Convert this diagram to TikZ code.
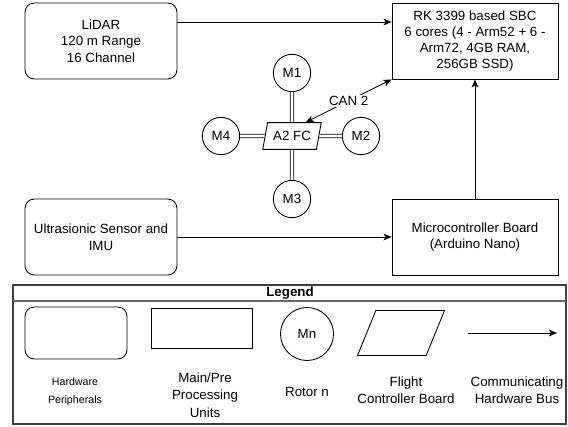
\documentclass[tikz,border=0pt]{standalone}
\usepackage{fontspec}
\setmainfont{Liberation Sans}
\usetikzlibrary{shapes.geometric, positioning, calc, arrows.meta}
\tikzstyle{periph} = [rectangle, rounded corners=7pt, draw=black, line width=0.65pt, align=center, minimum width=114pt, minimum height=57pt, font=\fontsize{10}{12.5}\selectfont]
\tikzstyle{unit} = [rectangle, draw=black, line width=0.65pt, align=center, minimum width=124.5pt, minimum height=57pt, font=\fontsize{10}{12}\selectfont]
\tikzstyle{rotor} = [circle, draw=black, line width=0.65pt, minimum size=28pt, inner sep=0pt, font=\fontsize{10}{12}\selectfont]
\tikzstyle{fcboard} = [trapezium, trapezium left angle=72, trapezium right angle=108, trapezium stretches=true, draw=black, line width=0.65pt, minimum width=44pt, minimum height=20pt, inner sep=1pt, font=\fontsize{10}{12}\selectfont]
\tikzstyle{bus} = [-{Stealth[length=6pt,width=5pt,inset=1.5pt]}, line width=0.65pt]
\tikzstyle{can} = [{Stealth[length=6pt,width=5pt,inset=1.5pt]}-{Stealth[length=6pt,width=5pt,inset=1.5pt]}, line width=0.65pt]
\tikzstyle{arm} = [double, double distance=2pt, line width=0.6pt]
\tikzstyle{caption} = [align=center, font=\fontsize{10}{13}\selectfont]

\begin{document}
\begin{tikzpicture}[x=0.75pt, y=-0.75pt]
\useasboundingbox (0,0) rectangle (568,427);
% main blocks
\node(lidar)[periph] at (101,41) {LiDAR\\120 m Range\\16 Channel};
\node(sbc)[unit] at (475,41) {RK 3399 based SBC\\6 cores (4 - Arm52 + 6 -\\Arm72, 4GB RAM,\\256GB SSD)};
\node(ultra)[periph] at (101,237) {Ultrasionic Sensor and\\IMU};
\node(micro)[unit] at (475,237) {Microcontroller Board\\(Arduino Nano)};
% flight controller and rotors
\node(fc)[fcboard] at (292,136) {A2 FC};
\node(mot1)[rotor] at (292,73) {M1};
\node(mot2)[rotor] at (361,136) {M2};
\node(mot3)[rotor] at (292,199) {M3};
\node(mot4)[rotor] at (221,136) {M4};
\draw [arm] (mot1) -- (fc);
\draw [arm] (mot2) -- (fc);
\draw [arm] (mot3) -- (fc);
\draw [arm] (mot4) -- (fc);
\draw [bus] ([yshift=14.25pt]lidar.east) -- ([yshift=14.25pt]sbc.west);
\draw [bus] (ultra) -- (micro);
\draw [bus] (micro) -- (sbc);
\draw [can] (fc.north east) -- node[fill=white, inner sep=1pt, font=\fontsize{10}{12}\selectfont]{CAN 2} (sbc.south west);
% legend
\draw [black!75, line width=1pt] (13,285) rectangle (566,424);
\draw [black!60, line width=1pt] (13,301) -- (566,301);
\node(lgtitle) at (290,293) {\fontsize{10}{12}\selectfont\bfseries Legend};
\node(lgperiph)[periph, minimum width=76.5pt, minimum height=39pt] at (76,333) {};
\node(lgunit)[unit, minimum width=75.75pt, minimum height=30pt] at (202,328) {};
\node(lgrotor)[rotor, minimum size=39.75pt] at (307,334) {Mn};
\node(lgfc)[fcboard, trapezium left angle=70, trapezium right angle=110, minimum width=65.25pt, minimum height=33.75pt] at (401,333) {};
\coordinate(busA) at (468,333);
\coordinate(busB) at (557,333);
\draw [bus] (busA) -- (busB);
\node(txperiph)[caption, font=\fontsize{8}{13.5}\selectfont] at (75,392) {Hardware\\Peripherals};
\node(txunit)[caption] at (205,395) {Main/Pre\\Processing\\Units};
\node(txrotor)[caption] at (307,392) {Rotor n};
\node(txfc)[caption] at (406,390) {Flight\\Controller Board};
\node(txbus)[caption] at (517,390) {Communicating\\Hardware Bus};
\end{tikzpicture}
\end{document}
